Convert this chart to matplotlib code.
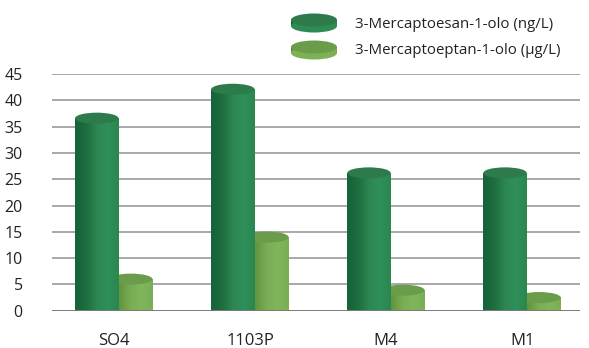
import numpy as np
import matplotlib.pyplot as plt
from matplotlib.colors import LinearSegmentedColormap
from matplotlib.patches import Ellipse

plt.rcParams['font.family'] = ['Open Sans', 'DejaVu Sans']

# ---- data ----
categories = ["SO4", "1103P", "M4", "M1"]
esan_ng = [36.6, 42.1, 26.2, 26.2]      # 3-Mercaptoesan-1-olo (ng/L)
eptan_ug = [6.0, 14.0, 3.9, 2.5]        # 3-Mercaptoeptan-1-olo (ug/L)
yticks = [0, 5, 10, 15, 20, 25, 30, 35, 40, 45]
labels = ["3-Mercaptoesan-1-olo (ng/L)", "3-Mercaptoeptan-1-olo (µg/L)"]

# ---- colours ----
dark_cmap = LinearSegmentedColormap.from_list(
    "dark", ["#17633a", "#1c6d3f", "#2c8750", "#30905a", "#2a8750"])
light_cmap = LinearSegmentedColormap.from_list(
    "light", ["#5a8a3c", "#64963f", "#79ad56", "#80b65c", "#79ae57"])
dark_top = "#2d7b4a"
light_top = "#6b9c4a"

W = 0.318      # cylinder width
CAP = 2.1      # height of the elliptical top, in data units
grad = np.linspace(0, 1, 64).reshape(1, -1)

fig = plt.figure(figsize=(5.89, 3.48), dpi=100)
ax = fig.add_axes([52 / 589, 1 - 310.7 / 348, (580 - 52) / 589, (310.7 - 74) / 348])


def cylinder(x0, val, cmap, top, z):
    ax.imshow(grad, cmap=cmap, extent=[x0, x0 + W, 0, val], aspect="auto",
              zorder=z, interpolation="bilinear")
    ax.add_patch(Ellipse((x0 + W / 2, val), W, CAP, facecolor=top,
                         edgecolor="none", zorder=z + 0.1, clip_on=False))


x = np.arange(len(categories))
for i in x:
    cylinder(i - 0.035, eptan_ug[i], light_cmap, light_top, 2)
    cylinder(i - 0.285, esan_ng[i], dark_cmap, dark_top, 3)

ax.set_xlim(-0.455, 3.425)
ax.set_ylim(0, 45)
ax.set_yticks(yticks)
for y in yticks[1:]:
    ax.axhline(y, color="#9a9a9a", lw=1.2, zorder=0)
ax.axhline(0, color="#7a7a7a", lw=1.4, zorder=4)

ax.set_xticks(x)
ax.set_xticklabels(categories, fontsize=12, color="#222222")
ax.tick_params(axis="x", length=0, pad=16)
ax.tick_params(axis="y", length=0, pad=21, labelsize=11.5, labelcolor="#222222")
for s in ax.spines.values():
    s.set_visible(False)
ax.set_facecolor("none")

# ---- legend with disc icons ----
lax = fig.add_axes([0, 0, 1, 1])
lax.axis("off")
lax.set_zorder(5)


def disc(cx, cy, w, h, th, cmap, top):
    lax.imshow(grad, cmap=cmap, extent=[cx - w / 2, cx + w / 2, cy + th, cy],
               aspect="auto", interpolation="bilinear")
    lax.add_patch(Ellipse((cx, cy + th), w, h, facecolor=cmap(0.6), edgecolor="none"))
    lax.add_patch(Ellipse((cx, cy), w, h, facecolor=top, edgecolor="none"))


disc(314, 20, 46, 13, 6, dark_cmap, dark_top)
disc(314, 47, 46, 13, 6, light_cmap, light_top)
lax.set_xlim(0, 589)
lax.set_ylim(348, 0)
lax.text(355, 24, labels[0], fontsize=10.8, color="#222222", va="center")
lax.text(355, 51, labels[1], fontsize=10.8, color="#222222", va="center")

fig.savefig("out.png", dpi=100)
